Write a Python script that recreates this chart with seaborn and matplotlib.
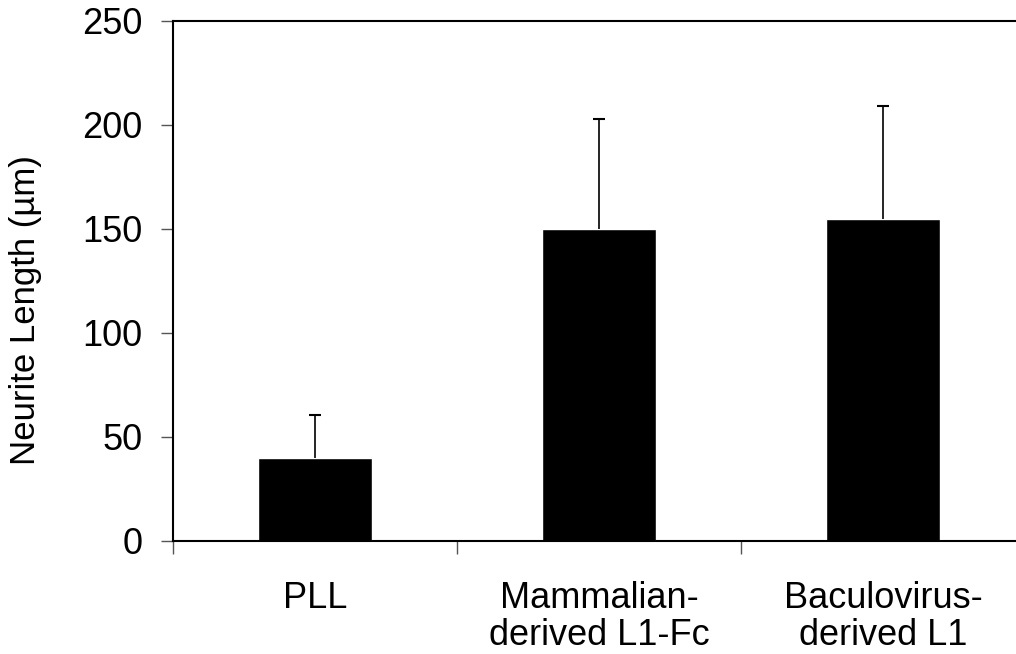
import matplotlib
matplotlib.use('Agg')
import matplotlib.pyplot as plt
import seaborn as sns
import pandas as pd
import numpy as np

categories = ['PLL', 'Mammalian-\nderived L1-Fc', 'Baculovirus-\nderived L1']
means = [40, 150, 155]
errors = [20.5, 53, 54]
y_ticks = [0, 50, 100, 150, 200, 250]

sns.set_style('ticks')
plt.rcParams['font.family'] = ['Liberation Sans', 'DejaVu Sans']
plt.rcParams['text.color'] = 'black'
plt.rcParams['axes.labelcolor'] = 'black'
plt.rcParams['xtick.labelcolor'] = 'black'
plt.rcParams['ytick.labelcolor'] = 'black'

fs = 26

df = pd.DataFrame({'group': categories, 'length': means})

fig = plt.figure(figsize=(10.16, 6.54), dpi=100)
ax = fig.add_axes([173 / 1016, 113 / 654, 852 / 1016, 520 / 654])

sns.barplot(data=df, x='group', y='length', color='black', width=0.4,
            saturation=1, errorbar=None, ax=ax)
_, caps, _ = ax.errorbar(np.arange(len(means)), means,
                         yerr=[np.zeros(len(errors)), errors],
                         fmt='none', ecolor='black', elinewidth=1.2,
                         capsize=4, capthick=1.5)
caps[0].set_visible(False)  # only the upper cap

ax.set_xlim(-0.5, 2.5)
ax.set_ylim(0, 250)
ax.set_yticks(y_ticks)
ax.set_xlabel('')
ax.set_ylabel('Neurite Length (µm)', fontsize=25, va='center')
ax.yaxis.set_label_coords((26 - 173) / 852, 0.444)

# category labels centred under bars, ticks at the group boundaries
ax.set_xticks(range(len(categories)))
ax.set_xticklabels(categories, fontsize=fs, linespacing=1.08, va='top')
ax.tick_params(axis='x', which='major', length=0, pad=29)
ax.set_xticks([-0.5, 0.5, 1.5], minor=True)
ax.tick_params(axis='x', which='minor', length=9, width=1, color='#555555', direction='out')
ax.tick_params(axis='y', labelsize=fs, length=9, width=1, color='#555555', pad=13)

for side in ['left', 'bottom', 'top']:
    ax.spines[side].set_linewidth(1.5)
    ax.spines[side].set_color('black')
ax.spines['right'].set_visible(False)

fig.savefig('out.png', dpi=100)
